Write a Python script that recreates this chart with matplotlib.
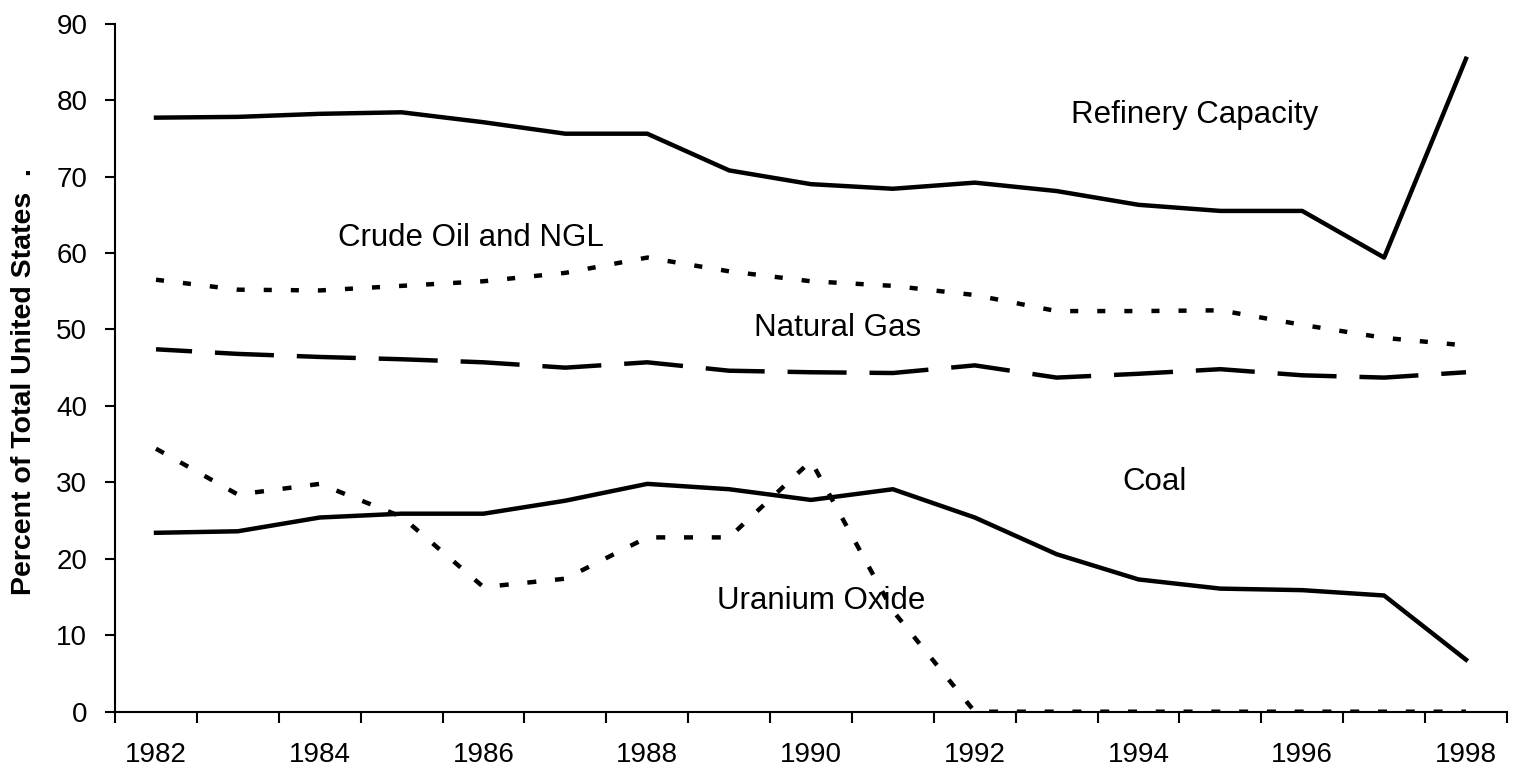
import matplotlib
matplotlib.use("Agg")
import matplotlib.pyplot as plt
import numpy as np

plt.rcParams['font.family'] = ['Liberation Sans', 'DejaVu Sans']
plt.rcParams['lines.scale_dashes'] = False

years = list(range(1982, 1999))
refinery = [77.7, 77.8, 78.2, 78.4, 77.1, 75.6, 75.6, 70.8, 69.0, 68.4, 69.2, 68.1, 66.3, 65.5, 65.5, 59.4, 85.4]
crude = [56.5, 55.2, 55.1, 55.7, 56.3, 57.4, 59.4, 57.6, 56.3, 55.7, 54.5, 52.4, 52.4, 52.5, 50.6, 48.9, 47.9]
natgas = [47.4, 46.8, 46.4, 46.1, 45.7, 45.0, 45.7, 44.6, 44.4, 44.3, 45.3, 43.7, 44.2, 44.8, 44.0, 43.7, 44.4]
coal = [23.4, 23.6, 25.4, 25.9, 25.9, 27.6, 29.8, 29.1, 27.7, 29.1, 25.4, 20.6, 17.3, 16.1, 15.9, 15.2, 6.8]
uranium = [34.4, 28.4, 29.8, 25.5, 16.3, 17.4, 22.8, 22.8, 32.8, 13.2, 0.0, 0.0, 0.0, 0.0, 0.0, 0.0, 0.0]

labels = ["Refinery Capacity", "Crude Oil and NGL", "Natural Gas", "Coal", "Uranium Oxide"]
yticks = list(range(0, 91, 10))

fig = plt.figure(figsize=(15.2, 7.69), dpi=100)
ax = fig.add_axes([0.0757, 0.0745, 0.9914 - 0.0757, 0.9693 - 0.0745])

x = np.arange(len(years))
lw = 3.2
ax.plot(x, refinery, color='black', lw=lw, solid_joinstyle='round')
ax.plot(x, crude, color='black', lw=lw, linestyle=(0, (5.8, 13.7)))
ax.plot(x, natgas, color='black', lw=lw, linestyle=(16.5, (42.5, 16.5)))
ax.plot(x, coal, color='black', lw=lw, solid_joinstyle='round')
ax.plot(x, uranium, color='black', lw=lw, linestyle=(0, (6.5, 13.5)))

fs_ann = 22.5
ax.text(12.69, 78.0, labels[0], fontsize=fs_ann, ha='center', va='center')
ax.text(3.85, 62.0, labels[1], fontsize=fs_ann, ha='center', va='center')
ax.text(8.32, 50.2, labels[2], fontsize=fs_ann, ha='center', va='center')
ax.text(12.2, 30.1, labels[3], fontsize=fs_ann, ha='center', va='center')
ax.text(8.13, 14.5, labels[4], fontsize=fs_ann, ha='center', va='center')

ax.set_xlim(-0.5, len(years) - 0.5)
ax.set_ylim(0, 90)
ax.set_yticks(yticks)
ax.set_yticklabels([str(v) for v in yticks])
ax.set_xticks(np.arange(0, len(years), 2))
ax.set_xticklabels([str(y) for y in years[::2]])
ax.set_xticks(np.arange(-0.5, len(years), 1.0), minor=True)
ax.tick_params(axis='x', which='major', length=0, pad=22, labelsize=20)
ax.tick_params(axis='x', which='minor', length=8, width=1.5, direction='out')
ax.tick_params(axis='y', length=7, width=1.5, pad=13, labelsize=20)

for s in ['top', 'right']:
    ax.spines[s].set_visible(False)
for s in ['left', 'bottom']:
    ax.spines[s].set_linewidth(1.5)

ax.set_ylabel("Percent of Total United States  .", fontsize=20.5, fontweight='bold')
ax.yaxis.set_label_coords(-0.056, 0.48)

fig.savefig("out.png", dpi=100)
